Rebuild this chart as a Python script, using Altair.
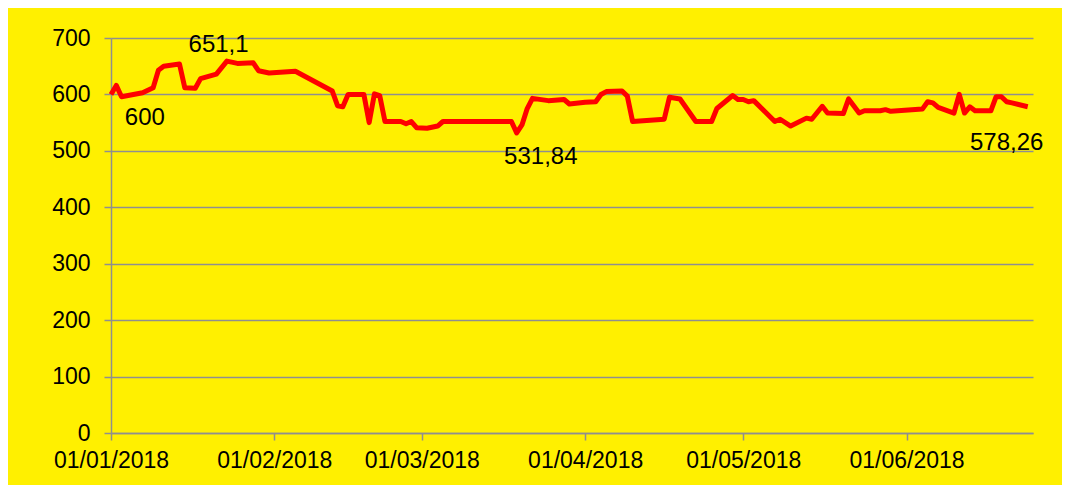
import altair as alt
import pandas as pd

dates = [
    "2018-01-01", "2018-01-02", "2018-01-03", "2018-01-07", "2018-01-09", "2018-01-10",
    "2018-01-11", "2018-01-14", "2018-01-15", "2018-01-17", "2018-01-18", "2018-01-21",
    "2018-01-23", "2018-01-25", "2018-01-28", "2018-01-29", "2018-01-31", "2018-02-05",
    "2018-02-12", "2018-02-13", "2018-02-14", "2018-02-15", "2018-02-18", "2018-02-19",
    "2018-02-20", "2018-02-21", "2018-02-22", "2018-02-25", "2018-02-26", "2018-02-27",
    "2018-02-28", "2018-03-02", "2018-03-04", "2018-03-05", "2018-03-18", "2018-03-19",
    "2018-03-20", "2018-03-21", "2018-03-22", "2018-03-25", "2018-03-28", "2018-03-29",
    "2018-04-01", "2018-04-03", "2018-04-04", "2018-04-05", "2018-04-08", "2018-04-09",
    "2018-04-10", "2018-04-16", "2018-04-17", "2018-04-19", "2018-04-22", "2018-04-25",
    "2018-04-26", "2018-04-29", "2018-04-30", "2018-05-01", "2018-05-02", "2018-05-03",
    "2018-05-07", "2018-05-08", "2018-05-10", "2018-05-13", "2018-05-14", "2018-05-16",
    "2018-05-17", "2018-05-20", "2018-05-21", "2018-05-23", "2018-05-24", "2018-05-27",
    "2018-05-28", "2018-05-29", "2018-06-04", "2018-06-05", "2018-06-06", "2018-06-07",
    "2018-06-10", "2018-06-11", "2018-06-12", "2018-06-13", "2018-06-14", "2018-06-17",
    "2018-06-18", "2018-06-19", "2018-06-20", "2018-06-21", "2018-06-24",
]
values = [
    600, 616, 596, 603, 612, 643,
    650, 654, 612, 611, 628, 636,
    659, 655, 656, 642, 638, 641,
    606, 580, 578, 600, 600, 550,
    601, 598, 552, 552, 548, 552,
    541, 540, 544, 552, 552, 531.84,
    546, 575, 593, 589, 591, 583,
    586, 587, 600, 605, 606, 597,
    552, 556, 595, 592, 552, 552,
    575, 598, 591, 591, 587, 589,
    552, 556, 544, 558, 556, 579,
    567, 566, 592, 567, 571, 571,
    573, 570, 574, 587, 585, 577,
    567, 600, 567, 578, 571, 571,
    596, 596, 587, 585, 578.26,
]

label_texts = ["600", "651,1", "531,84", "578,26"]
label_dates = ["2018-01-07T10:00", "2018-01-21T10:00", "2018-03-23T14:00", "2018-06-20T00:00"]
label_values = [558, 687, 489, 514]

y_ticks = [0, 100, 200, 300, 400, 500, 600, 700]
month_ticks = [alt.DateTime(year=2018, month=m, date=1, utc=True) for m in range(1, 7)]

df = pd.DataFrame({"date": dates, "value": values})
lab = pd.DataFrame({"date": label_dates, "value": label_values, "text": label_texts})

FONT = "Liberation Sans"
GRID = "#8f8f8f"

x_scale = alt.Scale(type="utc", domain=[alt.DateTime(year=2018, month=1, date=1, utc=True),
                                        alt.DateTime(year=2018, month=6, date=25, utc=True)])
x_axis = alt.Axis(values=month_ticks, labelExpr="utcFormat(datum.value, '%d/%m/%Y')", title=None,
                  grid=False, domainColor=GRID, domainWidth=1.5, tickColor=GRID, tickWidth=1.5,
                  tickSize=7, labelFont=FONT, labelFontSize=23, labelColor="black",
                  labelPadding=9, labelOverlap=False, labelFlush=False, labelAlign="center")
y_scale = alt.Scale(domain=[0, 700], nice=False, zero=True)
y_axis = alt.Axis(values=y_ticks, title=None, grid=True, gridColor=GRID, gridWidth=1.5,
                  domainColor=GRID, domainWidth=1.5, tickColor=GRID, tickWidth=1.5, tickSize=7,
                  labelFont=FONT, labelFontSize=23, labelColor="black", labelPadding=14,
                  labelFlush=False)

line = alt.Chart(df).mark_line(color="#ff0000", strokeWidth=5, strokeJoin="round").encode(
    x=alt.X("date:T", scale=x_scale, axis=x_axis),
    y=alt.Y("value:Q", scale=y_scale, axis=y_axis),
)

text = alt.Chart(lab).mark_text(font=FONT, fontSize=24, color="black", align="center",
                                baseline="middle").encode(
    x=alt.X("date:T", scale=x_scale, axis=x_axis),
    y=alt.Y("value:Q", scale=y_scale, axis=y_axis),
    text="text:N",
)

chart = alt.layer(line, text).properties(
    width=922, height=395,
    padding={"left": 103, "top": 30, "right": 29, "bottom": 52},
    autosize=alt.AutoSizeParams(type="none"),
    background="#fff000",
).configure_view(stroke=None)

chart.save("out.html", embed_options={"renderer": "svg", "actions": False})
